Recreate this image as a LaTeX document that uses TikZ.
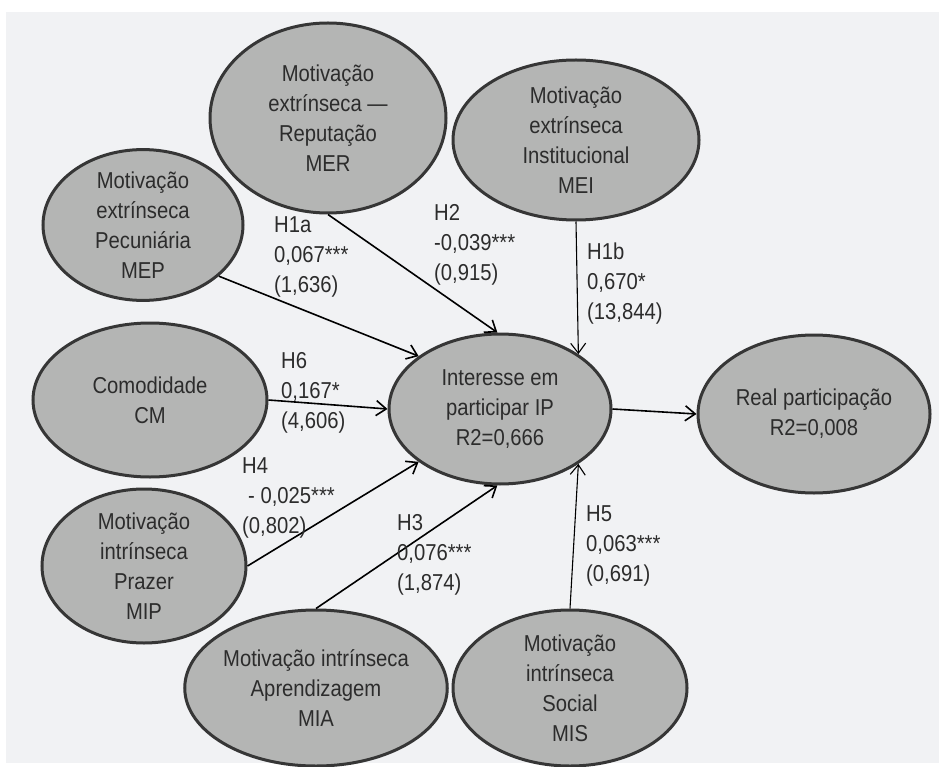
\documentclass[tikz,border=0pt]{standalone}
\usepackage{fontspec}
\setmainfont{Liberation Sans}[FakeStretch=0.88]
\usetikzlibrary{shapes.geometric,arrows.meta}
\definecolor{bg}{HTML}{F1F2F4}
\definecolor{ellfill}{HTML}{B4B5B4}
\definecolor{ellline}{HTML}{363636}
\definecolor{txt}{HTML}{2C2C2C}
\begin{document}
\begin{tikzpicture}[x=1pt,y=-1pt,
  lat/.style={ellipse, draw=ellline, line width=3pt, fill=ellfill, inner sep=0pt,
    align=center, text=txt, font=\fontsize{23}{30}\selectfont},
  lbl/.style={anchor=west, align=left, inner sep=0pt, text=txt,
    font=\fontsize{23}{30}\selectfont},
  arr/.style={line width=1.6pt, draw=black, -{Straight Barb[length=10pt,width=15pt]}},
  arrthin/.style={line width=1.1pt, draw=black, -{Straight Barb[length=10pt,width=15pt]}}]
\useasboundingbox (0,0) rectangle (939,767);
\fill[bg] (6,12) rectangle (939,763);

\node[lat, minimum width=236, minimum height=190] (mer) at (328,118)
  {Motivação\\extrínseca —\\Reputação\\MER};
\node[lat, minimum width=246, minimum height=160] (mei) at (576,140)
  {Motivação\\extrínseca\\Institucional\\MEI};
\node[lat, minimum width=200, minimum height=140] (mep) at (143,225)
  {Motivação\\extrínseca\\Pecuniária\\MEP};
\node[lat, minimum width=234, minimum height=154] (cm) at (150,400)
  {Comodidade\\CM};
\node[lat, minimum width=222, minimum height=150] (ip) at (500,409)
  {Interesse em\\participar IP\\R2=0,666};
\node[lat, minimum width=232, minimum height=158] (real) at (814,414)
  {Real participação\\R2=0,008};
\node[lat, minimum width=204, minimum height=154] (mip) at (144,566)
  {Motivação\\intrínseca\\Prazer\\MIP};
\node[lat, minimum width=256, minimum height=156] (mia) at (316,688)
  {Motivação intrínseca\\Aprendizagem\\MIA};
\node[lat, minimum width=234, minimum height=156] (mis) at (570,688)
  {Motivação\\intrínseca\\Social\\MIS};

\draw[arr] (mep.-34) -- (ip.147);
\draw[arr] (mer.south) -- (ip.92);
\draw[arrthin] (mei.south) -- (ip.35);
\draw[arr] (cm.east) -- (ip.west);
\draw[arr] (ip.east) -- (real.west);
\draw[arr] (mip.east) -- (ip.213);
\draw[arr] (mia.north) -- (ip.-92);
\draw[arrthin] (mis.north) -- (ip.-35);

\node[lbl] (l1a) at (274,257) {H1a\\0,067***\\(1,636)};
\node[lbl] (l2) at (434,245) {H2\\-0,039***\\(0,915)};
\node[lbl] (l1b) at (587,284) {H1b\\0,670*\\(13,844)};
\node[lbl] (l6) at (281,393) {H6\\0,167*\\(4,606)};
\node[lbl] (l4) at (242,498) {H4\\\hspace*{6pt}- 0,025***\\(0,802)};
\node[lbl] (l3) at (397,555) {H3\\0,076***\\(1,874)};
\node[lbl] (l5) at (586,546) {H5\\0,063***\\(0,691)};
\end{tikzpicture}
\end{document}
